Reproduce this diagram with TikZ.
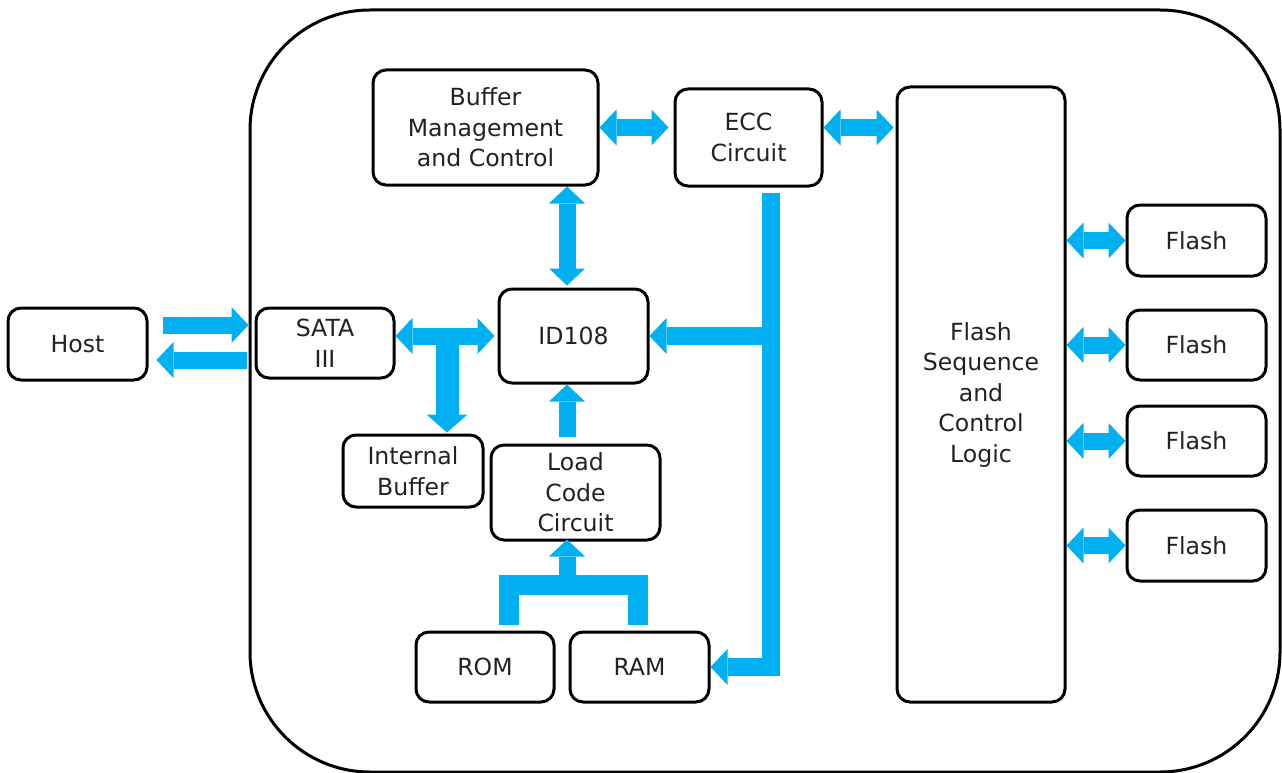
\documentclass[tikz,border=0pt]{standalone}
\usepackage{fontspec}
\setmainfont{DejaVu Sans}
\usetikzlibrary{arrows.meta,calc}
\definecolor{cy}{HTML}{00B0F0}
\definecolor{txt}{HTML}{222222}
\begin{document}
\begin{tikzpicture}[x=1pt,y=-1pt,
  box/.style={draw=black,line width=3pt,rounded corners=13pt,align=center,
    inner sep=0pt,text=txt,font=\fontsize{23.6}{30.5}\selectfont},
  fat/.style={draw=cy,line width=17pt,line join=miter,
    -{Triangle[width=36pt,length=17pt,line width=0pt]}},
  dbl/.style={draw=cy,line width=17pt,
    {Triangle[width=36pt,length=17pt,line width=0pt]}-{Triangle[width=36pt,length=17pt,line width=0pt]}},
  bar/.style={draw=cy,line width=20pt,line join=miter}]
\useasboundingbox (0,0) rectangle (1282,773);
% outer
\node[draw=black,line width=3pt,rounded corners=120pt,minimum width=1030pt,minimum height=762pt,inner sep=0pt] (ssd) at (765,391) {};
% nodes
\node[box,minimum width=139pt,minimum height=72pt] (host) at (77.5,344) {Host};
\node[box,minimum width=138pt,minimum height=70pt] (sata) at (325,343) {SATA\\III};
\node[box,minimum width=225pt,minimum height=115pt] (buf) at (485.5,127.5) {Buffer\\Management\\and Control};
\node[box,minimum width=147pt,minimum height=97pt] (ecc) at (748.5,137.5) {ECC\\Circuit};
\node[box,minimum width=168pt,minimum height=615pt] (fsc) at (981,394.5) {Flash\\Sequence\\and\\Control\\Logic};
\node[box,minimum width=149pt,minimum height=94pt] (id) at (573.5,336) {ID108};
\node[box,minimum width=140pt,minimum height=72pt] (ib) at (413,471) {Internal\\Buffer};
\node[box,minimum width=169pt,minimum height=95pt] (lcc) at (575.5,492.5) {Load\\Code\\Circuit};
\node[box,minimum width=138pt,minimum height=70pt] (rom) at (485,667) {ROM};
\node[box,minimum width=139pt,minimum height=70pt] (ram) at (639.5,667) {RAM};
\node[box,minimum width=139pt,minimum height=71pt] (f1) at (1196.5,240.5) {Flash};
\node[box,minimum width=139pt,minimum height=70pt] (f2) at (1196.5,345) {Flash};
\node[box,minimum width=139pt,minimum height=70pt] (f3) at (1196.5,441) {Flash};
\node[box,minimum width=139pt,minimum height=71pt] (f4) at (1196.5,545.5) {Flash};
% host <-> sata
\draw[fat] ($(host.east)+(14,-19)$) coordinate (a1s) -- (ssd.west |- a1s);
\coordinate (a2s) at ($(host.east)+(8,16)$);
\draw[fat] ([xshift=-2pt]ssd.west |- a2s) -- (a2s);
% sata <-> id108, T down to internal buffer
\draw[dbl] (sata.east |- id.west) -- ([xshift=-3pt]id.west);
\coordinate (td) at ($(ib.north)+(34,-1)$);
\draw[draw=cy,line width=23pt,-{Triangle[width=41pt,length=18pt,line width=0pt]}] (td |- id.west) -- (td);
% buffer <-> ecc <-> fsc
\draw[dbl] (buf.east) -- ([xshift=-5pt]buf.east -| ecc.west);
\draw[dbl] (ecc.east |- buf.east) -- ([xshift=-2pt]fsc.west |- buf.east);
% buffer <-> id108
\coordinate (bv) at ($(id.north)+(-6.5,-2)$);
\draw[dbl] (bv |- buf.south) -- (bv);
% ecc trunk
\coordinate (t0) at ($(ecc.south)+(22,5)$);
\draw[fat,line width=18pt] (t0) -- (t0 |- ram.east) -- (ram.east);
\draw[fat,line width=18pt] (t0 |- id.east) -- (id.east);
% load code -> id108
\coordinate (l0) at ($(lcc.north)+(-8.5,-7)$);
\draw[fat] (l0) -- (l0 |- id.south);
% rom/ram -> load code
\coordinate (rl) at ($(rom.north)+(24,-6)$);
\coordinate (rr) at ($(ram.north)+(-2,-6)$);
\draw[bar] (rl) -- ($(rl)+(0,-40)$) coordinate (rlt) -- (rlt -| rr) -- (rr);
\draw[fat] ([yshift=-10pt]lcc.south |- rlt) coordinate (lb) ++(-8.5,0) -- ([xshift=-8.5pt,yshift=2pt]lcc.south);
% flash links
\draw[dbl] (fsc.east |- f1.west) -- (f1.west);
\draw[dbl] (fsc.east |- f2.west) -- (f2.west);
\draw[dbl] (fsc.east |- f3.west) -- (f3.west);
\draw[dbl] (fsc.east |- f4.west) -- (f4.west);
\end{tikzpicture}
\end{document}
